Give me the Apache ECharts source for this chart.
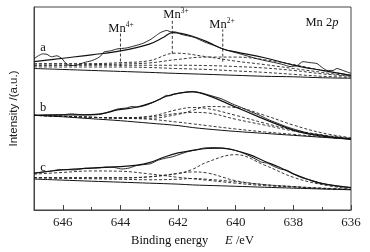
<!DOCTYPE html>
<html>
<head>
<meta charset="utf-8">
<script src="https://cdn.jsdelivr.net/npm/echarts@6/dist/echarts.min.js"></script>
<style>
  html, body { margin: 0; padding: 0; background: #fff; }
  #chart { width: 370px; height: 252px; }
</style>
</head>
<body>
<div id="chart"></div>
<script>
// Mn 2p XPS spectra, binding energy (eV) vs intensity (a.u., arbitrary offset units)
var xTicks = [646, 644, 642, 640, 638, 636];

// spectrum a
var rawA = [[647,155],[646.85,158],[646.7,160],[646.55,159.5],[646.4,157],[646.2,158],[646.03,155],[645.85,149],[645.68,148],[645.5,148.5],[645.27,151],[645,153],[644.8,155.5],[644.68,158],[644.57,162],[644.35,163],[644.12,165],[643.8,166],[643.53,168],[643.2,171],[642.94,175],[642.75,179],[642.6,182],[642.39,184],[642.25,182.5],[642.1,182.5],[641.9,180],[641.45,177],[641.07,172],[640.7,168],[640.44,165],[640.1,162],[639.85,160],[639.5,157],[639.26,155],[638.9,152.5],[638.64,151],[638.35,149],[638.12,147],[637.87,148],[637.67,152],[637.42,151],[637.18,150],[637,146],[636.83,143],[636.62,143],[636.49,145],[636.28,143],[636,140]];
var fitA = [[647,152],[646,155.5],[645,159],[644,163],[643,170],[642.5,177],[642.2,181.7],[641.9,181],[641.5,178],[641,172.5],[640.44,165],[640,162],[639,156],[638,148.5],[637,143],[636,138]];
var compEA = [647, 646, 645, 644, 643, 642.1, 641, 640, 639, 638, 637, 636];
var mn3A = [150, 150, 150, 151, 153, 160.7, 157, 152.5, 149, 145, 141, 137];
var mn2A = [148.5, 148.5, 149, 149.5, 150.7, 154, 156.7, 156.7, 154, 149, 143, 138];
var mn4A = [148.3, 148.3, 148.3, 148.3, 148.3, 148.3, 148, 147, 145.5, 143, 139.5, 137];
var lowA = [146.7, 146.5, 146.5, 146.5, 146, 145, 144, 142.5, 141, 139, 137, 136];
var baseA = [145, 144, 143, 142, 141, 140, 139, 138, 137, 136.5, 135.5, 135];

// spectrum b
var rawB = [[647,97],[646.5,97.3],[646,97.6],[645.7,98.5],[645.5,98],[645.2,97.5],[645,97.5],[644.7,98],[644.4,100.5],[644.1,103.5],[643.8,104.5],[643.6,106],[643.4,105.5],[643.1,107.5],[642.9,110],[642.6,114],[642.4,117.5],[642.3,117],[642.1,119],[641.8,120.5],[641.5,121.5],[641.2,120],[640.9,117.5],[640.5,114],[640.1,108.5],[639.8,105],[639.5,101],[639.2,97.5],[638.9,93],[638.6,89.5],[638.3,86],[638,83],[637.7,80.5],[637.4,78],[637.2,77.5],[636.9,76],[636.6,74],[636.3,73.5],[636,72.5]];
var fitB = [[647,97],[646,97.5],[645.5,97.5],[644.7,98.5],[644.1,102.5],[643.5,105],[642.9,110],[642.4,116.5],[641.9,120],[641.5,121],[640.9,116.7],[640.1,106.7],[639.3,96.7],[638.6,88.3],[637.8,80],[637,75.7],[636,72.7]];
var compEB = [647, 646, 645, 644, 643, 642, 641.5, 641, 640, 639, 638, 637, 636];
var mn3B = [97, 96, 95, 94.5, 96, 103, 105, 104, 97, 89, 82, 77, 73.5];
var mn4B = [97, 96, 95, 94.5, 95.5, 99, 100, 99.5, 93, 87, 81, 76.5, 73];
var mn2B = [97, 96, 95, 94, 94, 98, 102, 106, 105, 97, 87, 79, 74];
var lowB = [97, 96, 95, 94, 93, 90, 88.3, 86.5, 83, 80, 77.5, 75, 73];
var baseB = [97, 95.5, 93.5, 91.5, 89, 86.5, 84.5, 83, 80.5, 78.5, 76.5, 74.5, 72.5];

// spectrum c
var rawC = [[647,37.7],[646.7,39],[646.4,40],[646.1,41.5],[645.85,41.5],[645.6,41],[645.3,42.5],[645.05,43],[644.8,43],[644.5,44],[644.2,43.5],[643.95,42],[643.7,43],[643.45,45.5],[643.2,46.5],[642.95,47.5],[642.7,51],[642.45,53],[642.2,54.5],[641.9,57.5],[641.7,59.5],[641.4,61.5],[641.1,63.5],[640.8,64],[640.5,63.5],[640.2,62.5],[639.9,60],[639.6,56.5],[639.3,52],[639.1,49],[638.9,48],[638.7,45],[638.45,42],[638.2,40.5],[638,37],[637.7,33],[637.4,30.5],[637.1,28],[636.8,26],[636.5,24.5],[636.2,23.5],[636,23]];
var fitC = [[647,37.7],[646,41],[645,43],[644,44.5],[643.5,45.7],[643,48.5],[642.5,54],[642,58.5],[641.5,61],[641,63],[640.5,63.5],[640,61],[639.5,56.5],[639,50],[638.5,44],[638,37],[637.5,31.5],[637,27],[636,23]];
var compEC = [647, 646, 645, 644, 643, 642, 641.5, 641, 640, 639, 638, 637, 636];
var mn4C = [36.7, 38.5, 40, 39.7, 37, 33.5, 32, 30.5, 27.5, 25, 23.5, 22, 21];
var mn3C = [33, 33, 33, 33, 34, 37.5, 39, 38, 30, 26, 24, 22, 21];
var mn2C = [33, 33, 33, 33, 34, 37.5, 41.7, 49, 56.7, 46, 33.5, 26, 21.5];
var lowC = [33.3, 32.5, 32, 31.5, 31, 31.5, 32.3, 31.5, 29, 26, 24, 22.5, 21];
var baseC = [31.7, 30.6, 29.5, 28.5, 27.5, 26.5, 25.7, 25.2, 24.3, 23.3, 22.4, 21.5, 20.7];

// position markers of the Mn states
var markMn4 = [[644, 147], [644, 182]];
var markMn3 = [[642.2, 160], [642.2, 195]];
var markMn2 = [[640.45, 152], [640.45, 185]];

var myChart = echarts.init(document.getElementById('chart'));

function zip(xs, ys) {
    return xs.map(function (x, i) { return [x, ys[i]]; });
}

function solid(data, width, smooth) {
    return {
        type: 'line', data: data, showSymbol: false, smooth: smooth,
        lineStyle: { color: '#111', width: width }, silent: true, z: 3
    };
}

function dashed(data, smooth) {
    return {
        type: 'line', data: data, showSymbol: false, smooth: smooth,
        lineStyle: { color: '#222', width: 0.9, type: [3, 2] }, silent: true, z: 2
    };
}

var seriesData = [];
[[rawA, fitA, compEA, [mn3A, mn2A, mn4A, lowA], baseA],
 [rawB, fitB, compEB, [mn3B, mn4B, mn2B, lowB], baseB],
 [rawC, fitC, compEC, [mn4C, mn3C, mn2C, lowC], baseC]].forEach(function (s) {
    seriesData.push(solid(s[0], 0.9, 0.2));
    seriesData.push(solid(s[1], 1.2, 0.4));
    s[3].forEach(function (c) {
        seriesData.push(dashed(zip(s[2], c), 0.4));
    });
    seriesData.push(solid(zip(s[2], s[4]), 1, 0.3));
});
[markMn4, markMn3, markMn2].forEach(function (m) {
    seriesData.push(dashed(m, false));
});

var serif = '"Liberation Serif", "Times New Roman", serif';
var supRich = {
    m: { fontFamily: serif, fontSize: 12.5, color: '#111' },
    s: { fontFamily: serif, fontSize: 7.5, color: '#111', padding: [0, 0, 7, 0] },
    i: { fontFamily: serif, fontSize: 12.5, color: '#111', fontStyle: 'italic' }
};

function txt(x, y, text) {
    return {
        type: 'text', x: x, y: y, z: 10,
        style: { text: text, rich: supRich, align: 'center', verticalAlign: 'middle', fill: '#111' }
    };
}

var option = {
    animation: false,
    grid: {
        left: 34, right: 19, top: 7, bottom: 37,
        show: true, borderColor: '#444', borderWidth: 1
    },
    xAxis: {
        type: 'value',
        inverse: true,
        min: 636,
        max: 647,
        interval: 2,
        name: '{m|Binding energy}     {i|E} {m|/eV}',
        nameLocation: 'middle',
        nameGap: 24,
        nameTextStyle: { rich: supRich },
        axisLine: { lineStyle: { color: '#444', width: 1 } },
        axisTick: { inside: true, length: 5, lineStyle: { color: '#444' } },
        minorTick: { show: true, splitNumber: 2, length: 3, lineStyle: { color: '#444' } },
        splitLine: { show: false },
        axisLabel: {
            margin: 6,
            fontFamily: serif,
            fontSize: 13,
            color: '#222',
            formatter: function (v) { return xTicks.indexOf(v) >= 0 ? String(v) : ''; }
        }
    },
    yAxis: {
        type: 'value',
        min: 0,
        max: 208,
        name: 'Intensity /(a.u.)',
        nameLocation: 'middle',
        nameGap: 14,
        nameTextStyle: { fontFamily: '"Liberation Sans", Arial, sans-serif', fontSize: 11.5, color: '#222' },
        axisLine: { show: true, lineStyle: { color: '#444', width: 1 } },
        axisTick: { show: false },
        axisLabel: { show: false },
        splitLine: { show: false }
    },
    graphic: [
        txt(43, 48, '{m|a}'),
        txt(43, 108, '{m|b}'),
        txt(43, 168, '{m|c}'),
        txt(121, 29, '{m|Mn}{s|4+}'),
        txt(176, 15, '{m|Mn}{s|3+}'),
        txt(222, 25, '{m|Mn}{s|2+}'),
        txt(322, 23, '{m|Mn 2}{i|p}')
    ],
    series: seriesData
};

myChart.setOption(option);
</script>
</body>
</html>
